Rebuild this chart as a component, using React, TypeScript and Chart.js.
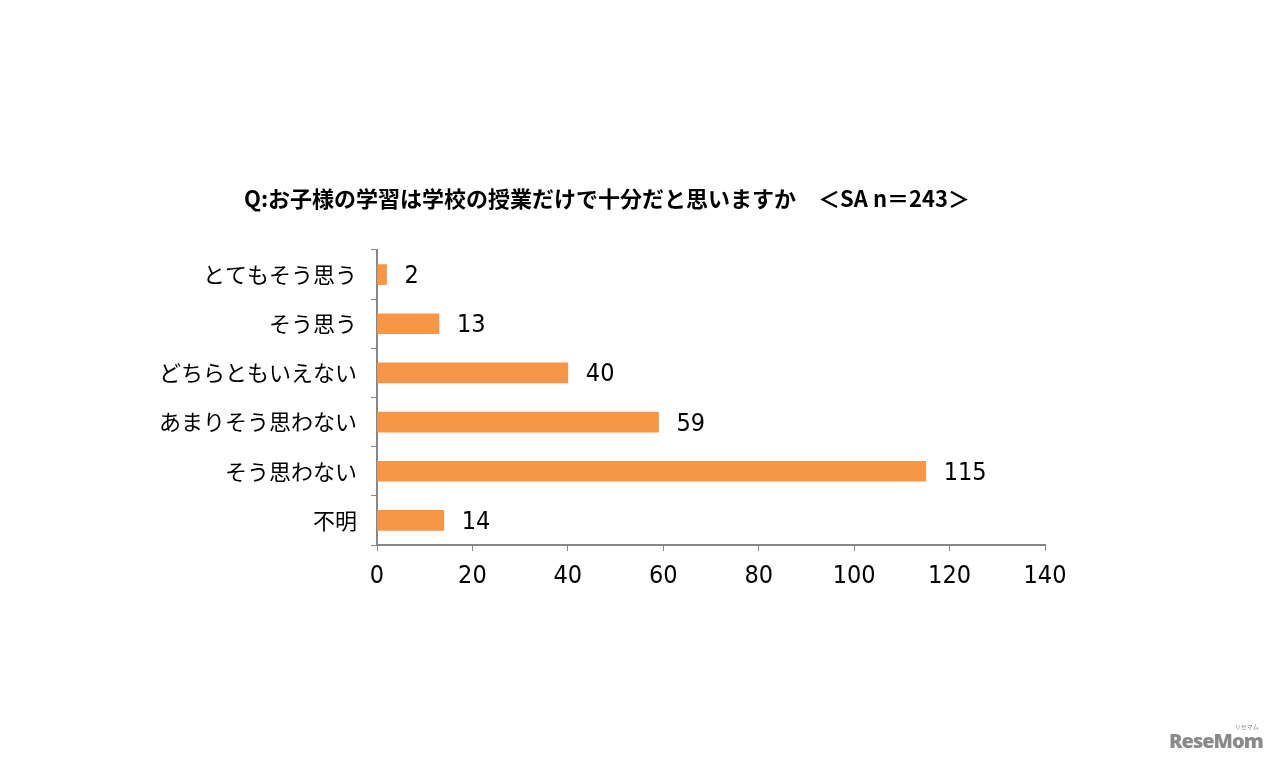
import React, { useEffect, useRef } from "react";
import { Chart, registerables } from "chart.js";

Chart.register(...registerables);

const TITLE = "Q:お子様の学習は学校の授業だけで十分だと思いますか　＜SA n＝243＞";
const CATEGORIES = ["とてもそう思う", "そう思う", "どちらともいえない", "あまりそう思わない", "そう思わない", "不明"];
const VALUES = [2, 13, 40, 59, 115, 14];
const X_MIN = 0;
const X_MAX = 140;
const X_STEP = 20;

const JP = '"Noto Sans CJK JP", "Noto Sans", sans-serif';
const NUM = '"Liberation Sans Narrow", "DejaVu Sans Condensed", "Noto Sans CJK JP", sans-serif';
const BAR_COLOR = "#F79646";
const AXIS_COLOR = "#868686";

export default function App() {
  const ref = useRef<HTMLCanvasElement | null>(null);

  useEffect(() => {
    document.body.style.margin = "0";
    const canvas = ref.current;
    if (!canvas) return;

    const labelPlugin = {
      id: "valueLabels",
      afterDatasetsDraw(chart: any) {
        const ctx = chart.ctx;
        const meta = chart.getDatasetMeta(0);
        ctx.save();
        ctx.fillStyle = "#000";
        ctx.font = `25px ${NUM}`;
        ctx.textAlign = "left";
        ctx.textBaseline = "middle";
        meta.data.forEach((bar: any, i: number) => {
          ctx.fillText(String(VALUES[i]), bar.x + 18, bar.y + 2);
        });
        ctx.restore();
      },
    };

    const titlePlugin = {
      id: "titleText",
      afterDraw(chart: any) {
        const ctx = chart.ctx;
        ctx.save();
        ctx.fillStyle = "#000";
        ctx.font = `bold 22px ${JP}`;
        ctx.textAlign = "center";
        ctx.textBaseline = "middle";
        ctx.fillText(TITLE, 607, 199);
        ctx.restore();
      },
    };

    const chart = new Chart(canvas, {
      type: "bar",
      data: {
        labels: CATEGORIES,
        datasets: [
          {
            data: VALUES,
            backgroundColor: BAR_COLOR,
            barThickness: 20,
          },
        ],
      },
      options: {
        indexAxis: "y",
        animation: false,
        responsive: false,
        devicePixelRatio: 1,
        layout: { padding: { left: 0, right: 235, top: 250, bottom: 0 } },
        plugins: {
          legend: { display: false },
          tooltip: { enabled: false },
          title: { display: false },
        },
        scales: {
          x: {
            min: X_MIN,
            max: X_MAX,
            ticks: {
              stepSize: X_STEP,
              color: "#000",
              font: { family: NUM, size: 25 },
              padding: 10,
            },
            grid: {
              drawOnChartArea: false,
              drawTicks: true,
              tickLength: 6,
              color: AXIS_COLOR,
            },
            border: { color: AXIS_COLOR, width: 2 },
            afterFit(scale: any) {
              scale.height = 219;
            },
          },
          y: {
            ticks: {
              color: "#000",
              font: { family: JP, size: 22 },
              padding: 14,
            },
            grid: {
              drawOnChartArea: false,
              drawTicks: true,
              tickLength: 6,
              color: AXIS_COLOR,
              offset: true,
            },
            border: { color: AXIS_COLOR, width: 2 },
            afterFit(scale: any) {
              scale.width = 377;
            },
          },
        },
      },
      plugins: [labelPlugin, titlePlugin],
    });

    return () => chart.destroy();
  }, []);

  return (
    <div style={{ position: "relative", width: 1280, height: 764, background: "#fff" }}>
      <canvas ref={ref} width={1280} height={764} style={{ display: "block" }} />
      <div
        style={{
          position: "absolute",
          left: 1169,
          top: 727,
          fontFamily: '"Open Sans", "Noto Sans", sans-serif',
          fontWeight: 800,
          fontSize: 20,
          color: "#8a8a8a",
          letterSpacing: -1,
          lineHeight: "28px",
        }}
      >
        ReseMom
        <span
          style={{
            position: "absolute",
            right: 4,
            top: -4,
            fontSize: 6,
            fontWeight: 400,
            letterSpacing: 0,
            fontFamily: JP,
            lineHeight: "7px",
          }}
        >
          リセマム
        </span>
      </div>
    </div>
  );
}
